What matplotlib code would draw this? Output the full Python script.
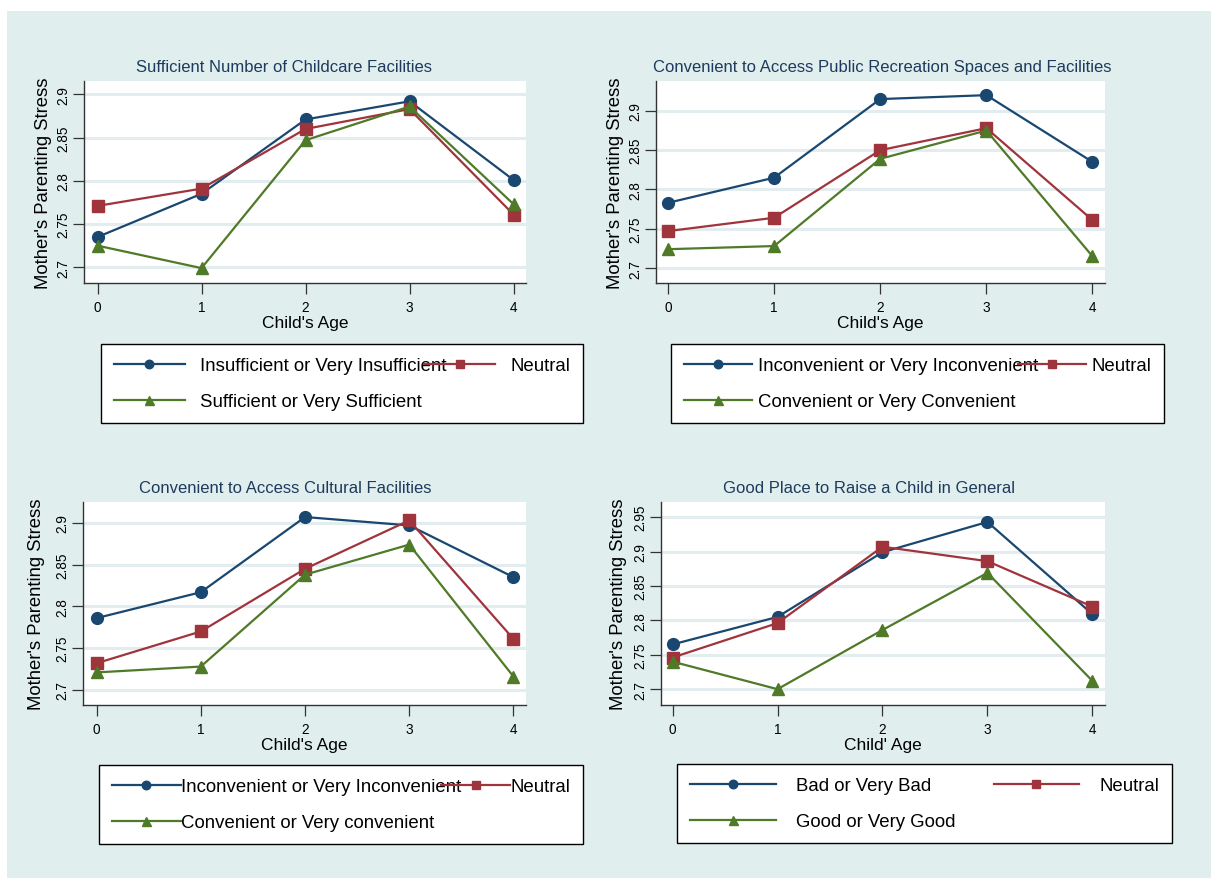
import matplotlib
matplotlib.use("Agg")
import matplotlib.pyplot as plt
from matplotlib.patches import Rectangle

plt.rcParams['font.family'] = ['Liberation Sans', 'DejaVu Sans']

# Child's age on the x axis
ages = [0, 1, 2, 3, 4]
age_ticks = ['0', '1', '2', '3', '4']

# Panel 1: childcare facilities
childcare_insufficient = [2.735, 2.785, 2.871, 2.892, 2.801]
childcare_neutral = [2.771, 2.791, 2.860, 2.883, 2.761]
childcare_sufficient = [2.725, 2.699, 2.847, 2.886, 2.773]

# Panel 2: public recreation spaces
recreation_inconvenient = [2.783, 2.815, 2.915, 2.920, 2.835]
recreation_neutral = [2.747, 2.764, 2.850, 2.878, 2.761]
recreation_convenient = [2.724, 2.728, 2.839, 2.875, 2.715]

# Panel 3: cultural facilities
cultural_inconvenient = [2.786, 2.817, 2.907, 2.897, 2.835]
cultural_neutral = [2.732, 2.770, 2.845, 2.903, 2.761]
cultural_convenient = [2.721, 2.728, 2.838, 2.874, 2.716]

# Panel 4: good place to raise a child
place_bad = [2.765, 2.805, 2.899, 2.943, 2.809]
place_neutral = [2.746, 2.796, 2.907, 2.886, 2.820]
place_good = [2.740, 2.700, 2.786, 2.869, 2.712]

yticks_low = [2.7, 2.75, 2.8, 2.85, 2.9]
yticks_high = [2.7, 2.75, 2.8, 2.85, 2.9, 2.95]

NAVY = '#1a476f'
MAROON = '#a0343c'
GREEN = '#4f7a28'
BG = '#e0eeee'
GRID = '#e3edf0'

W, H = 1211, 879
fig = plt.figure(figsize=(W / 100, H / 100), dpi=100)
fig.patch.set_facecolor('white')
fig.patches.append(Rectangle((7 / W, 0), 1 - 7 / W, 1 - 12 / H,
                             transform=fig.transFigure, facecolor=BG,
                             edgecolor='none', zorder=-10))


def px_axes(l, t, r, b):
    return fig.add_axes([l / W, 1 - b / H, (r - l) / W, (b - t) / H])


panels = [
    dict(box=(84, 82, 526, 284), xlim=(-0.13, 4.12), ylim=(2.6818, 2.9155),
         yticks=yticks_low,
         title='Sufficient Number of Childcare Facilities', tx=0.452,
         xlabel="Child's Age", ylx=-0.072,
         series=[childcare_insufficient, childcare_neutral, childcare_sufficient],
         labels=['Insufficient or Very Insufficient', 'Neutral',
                 'Sufficient or Very Sufficient'],
         leg=(101, 345, 583, 422), hl=3.8, htp=0.8),
    dict(box=(656, 82, 1105, 284), xlim=(-0.113, 4.118), ylim=(2.681, 2.938),
         yticks=yticks_low,
         title='Convenient to Access Public Recreation Spaces and Facilities', tx=0.503,
         xlabel="Child's Age", ylx=-0.071,
         series=[recreation_inconvenient, recreation_neutral, recreation_convenient],
         labels=['Inconvenient or Very Inconvenient', 'Neutral',
                 'Convenient or Very Convenient'],
         leg=(671, 345, 1164, 422), hl=3.65, htp=0.3),
    dict(box=(83, 503, 526, 706), xlim=(-0.13, 4.12), ylim=(2.682, 2.925),
         yticks=yticks_low,
         title='Convenient to Access Cultural Facilities', tx=0.456,
         xlabel="Child's Age", ylx=-0.085,
         series=[cultural_inconvenient, cultural_neutral, cultural_convenient],
         labels=['Inconvenient or Very Inconvenient', 'Neutral',
                 'Convenient or Very convenient'],
         leg=(99, 766, 583, 843), hl=3.7, htp=0.0),
    dict(box=(661, 503, 1105, 706), xlim=(-0.11, 4.12), ylim=(2.677, 2.972),
         yticks=yticks_high,
         title='Good Place to Raise a Child in General', tx=0.468,
         xlabel="Child' Age", ylx=-0.077,
         series=[place_bad, place_neutral, place_good],
         labels=['Bad or Very Bad', 'Neutral', 'Good or Very Good'],
         leg=(677, 765, 1172, 843), hl=4.6, htp=1.07),
]

styles = [(NAVY, 'o', 8.5), (MAROON, 's', 8.5), (GREEN, '^', 9)]

for p in panels:
    ax = px_axes(*p['box'])
    ax.set_facecolor('white')
    lines = []
    for vals, lab, (col, mk, ms) in zip(p['series'], p['labels'], styles):
        ln, = ax.plot(ages, vals, color=col, marker=mk, markersize=ms,
                      linewidth=1.6, label=lab, zorder=3)
        lines.append(ln)

    ax.set_xlim(*p['xlim'])
    ax.set_ylim(*p['ylim'])
    ax.set_xticks(ages)
    ax.set_xticklabels(age_ticks, fontsize=9.8)
    ax.set_yticks(p['yticks'])
    ax.set_yticklabels([f'{v:g}' for v in p['yticks']], fontsize=9.8,
                       rotation=90, va='center')
    ax.tick_params(length=8, width=0.9, color='#333333', pad=2)
    ax.tick_params(axis='x', pad=4)
    ax.grid(axis='y', color=GRID, linewidth=2.2)
    ax.set_axisbelow(True)
    for side in ['top', 'right']:
        ax.spines[side].set_visible(False)
    for side in ['left', 'bottom']:
        ax.spines[side].set_color('#333333')
        ax.spines[side].set_linewidth(1.0)

    ax.set_title(p['title'], fontsize=12, color='#1e3a5c', x=p['tx'], pad=7)
    ax.set_xlabel(p['xlabel'], fontsize=12.5, labelpad=1)
    ax.set_ylabel("Mother's Parenting Stress", fontsize=13.3)
    ax.yaxis.set_label_coords(p['ylx'], 0.5)

    l, t, r, b = p['leg']
    # column-major fill puts the third entry under the first one
    leg = fig.legend([lines[0], lines[2], lines[1]],
                     [p['labels'][0], p['labels'][2], p['labels'][1]],
                     ncol=2, loc='upper left',
                     bbox_to_anchor=(l / W, 1 - b / H, (r - l) / W, (b - t) / H),
                     bbox_transform=fig.transFigure, mode='expand',
                     borderaxespad=0, fontsize=13.4, handlelength=p['hl'],
                     handletextpad=p['htp'], columnspacing=0.2,
                     labelspacing=1.02, borderpad=0.7, markerscale=0.72,
                     fancybox=False, framealpha=1, edgecolor='black',
                     facecolor='white')
    leg.get_frame().set_linewidth(1.0)

plt.savefig('out.png', dpi=100, facecolor=fig.get_facecolor())
